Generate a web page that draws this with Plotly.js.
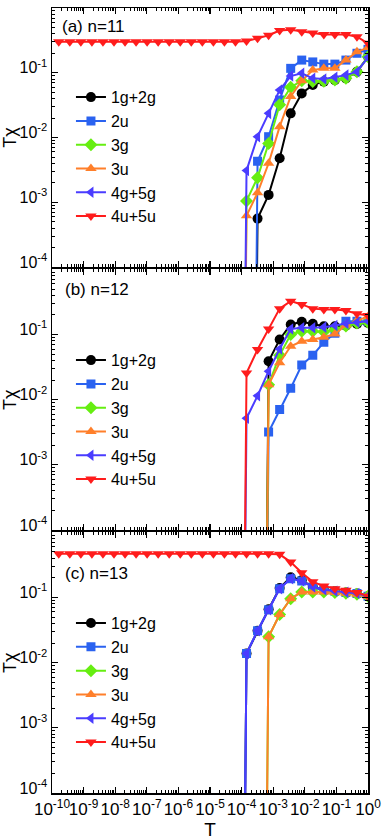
<!DOCTYPE html>
<html>
<head>
<meta charset="utf-8">
<script src="https://cdn.plot.ly/plotly-3.0.1.min.js"></script>
<style>
  html, body { margin: 0; padding: 0; background: #fff; }
  #chart { width: 382px; height: 840px; }
</style>
</head>
<body>
<div id="chart"></div>
<script>
// temperature grid (descending from T = 1)
var T = [1, 0.4472, 0.2, 0.08944, 0.04, 0.01789, 0.008, 0.003578, 0.0016, 7.155e-4,
         3.2e-4, 1.431e-4, 6.4e-5, 2.862e-5, 1.28e-5, 5.724e-6, 2.56e-6, 1.145e-6, 5.12e-7, 2.29e-7,
         1.024e-7, 4.579e-8, 2.048e-8, 9.159e-9, 4.096e-9, 1.832e-9, 8.192e-10, 3.664e-10, 1.638e-10];

var names = ["1g+2g", "2u", "3g", "3u", "4g+5g", "4u+5u"];
var colors = ["#000000", "#2a62f0", "#66ee11", "#ff7f2a", "#4a3cff", "#ff1c1c"];
var symbols = ["circle", "square", "diamond", "triangle-up", "triangle-left", "triangle-down"];
var sizes = [10, 9, 10, 10, 10, 10];

// panel (a) n=11   (1e-20 = curve drops off the axis)
var a_1g2g = [0.176, 0.104, 0.082, 0.077, 0.073, 0.065, 0.048, 0.0236, 0.0048, 0.0013, 0.00056, 1e-20];
var a_2u   = [0.23, 0.20, 0.157, 0.136, 0.136, 0.147, 0.157, 0.117, 0.038, 0.0103, 0.0043, 1e-20];
var a_3g   = [0.176, 0.104, 0.082, 0.077, 0.074, 0.073, 0.075, 0.060, 0.032, 0.0081, 0.0024, 0.00105, 1e-20];
var a_3u   = [0.245, 0.211, 0.157, 0.117, 0.117, 0.11, 0.075, 0.043, 0.0147, 0.004, 0.0014, 0.00062, 1e-20];
var a_4g5g = [0.173, 0.104, 0.092, 0.085, 0.08, 0.082, 0.098, 0.089, 0.054, 0.0236, 0.0103, 0.0031, 1e-20];
var a_4u5u = [0.285, 0.36, 0.39, 0.39, 0.39, 0.41, 0.43, 0.46, 0.45, 0.38, 0.34, 0.31,
              0.30, 0.30, 0.30, 0.30, 0.30, 0.30, 0.30, 0.30, 0.30, 0.30, 0.30, 0.30, 0.30, 0.30, 0.30, 0.30, 0.30];

// panel (b) n=12
var b_1g2g = [0.151, 0.145, 0.137, 0.134, 0.134, 0.146, 0.157, 0.143, 0.084, 0.039, 1e-20];
var b_2u   = [0.16, 0.16, 0.16, 0.105, 0.076, 0.048, 0.034, 0.015, 0.0071, 0.0032, 1e-20];
var b_3g   = [0.155, 0.15, 0.135, 0.12, 0.11, 0.112, 0.112, 0.10, 0.048, 0.017, 1e-20];
var b_3u   = [0.19, 0.165, 0.14, 0.102, 0.091, 0.084, 0.079, 0.066, 0.037, 0.017, 1e-20];
var b_4g5g = [0.16, 0.155, 0.148, 0.138, 0.13, 0.127, 0.127, 0.122, 0.06, 0.0274, 0.0115, 0.0052, 1e-20];
var b_4u5u = [0.196, 0.208, 0.234, 0.243, 0.243, 0.25, 0.29, 0.326, 0.25, 0.122, 0.059, 0.0257, 1e-20];

// panel (c) n=13
var c_1g2g = [0.105, 0.115, 0.12, 0.125, 0.132, 0.145, 0.185, 0.205, 0.14, 0.066, 0.031, 0.0138, 1e-20];
var c_2u   = [0.105, 0.115, 0.12, 0.125, 0.132, 0.145, 0.18, 0.195, 0.137, 0.065, 0.031, 0.0138, 1e-20];
var c_3g   = [0.105, 0.112, 0.116, 0.12, 0.122, 0.122, 0.122, 0.096, 0.055, 0.025, 1e-20];
var c_3u   = [0.105, 0.112, 0.116, 0.12, 0.122, 0.122, 0.122, 0.096, 0.055, 0.025, 1e-20];
var c_4g5g = [0.105, 0.115, 0.12, 0.125, 0.132, 0.145, 0.18, 0.195, 0.137, 0.065, 0.031, 0.0138, 1e-20];
var c_4u5u = [0.105, 0.12, 0.129, 0.137, 0.15, 0.174, 0.24, 0.35, 0.46,
              0.47, 0.47, 0.47, 0.47, 0.47, 0.47, 0.47, 0.47, 0.47, 0.47, 0.47,
              0.47, 0.47, 0.47, 0.47, 0.47, 0.47, 0.47, 0.47, 0.47];

var panelLabels = ["(a) n=11", "(b) n=12", "(c) n=13"];
var xTickVals = [1e-10, 1e-9, 1e-8, 1e-7, 1e-6, 1e-5, 1e-4, 1e-3, 1e-2, 1e-1, 1];
var xTickText = ["10<sup>-10</sup>", "10<sup>-9</sup>", "10<sup>-8</sup>", "10<sup>-7</sup>", "10<sup>-6</sup>",
                 "10<sup>-5</sup>", "10<sup>-4</sup>", "10<sup>-3</sup>", "10<sup>-2</sup>", "10<sup>-1</sup>", "10<sup>0</sup>"];
var yTickVals = [1e-4, 1e-3, 1e-2, 1e-1, 1];
var yTickText = ["10<sup>-4</sup>", "10<sup>-3</sup>", "10<sup>-2</sup>", "10<sup>-1</sup>", "10<sup>0</sup>"];
var yTickTextLower = ["10<sup>-4</sup>", "10<sup>-3</sup>", "10<sup>-2</sup>", "10<sup>-1</sup>", ""];

var panels = [
  [a_1g2g, a_2u, a_3g, a_3u, a_4g5g, a_4u5u],
  [b_1g2g, b_2u, b_3g, b_3u, b_4g5g, b_4u5u],
  [c_1g2g, c_2u, c_3g, c_3u, c_4g5g, c_4u5u]
];

var font = "Liberation Sans, Arial, Helvetica, sans-serif";
var data = [];
panels.forEach(function(series, p) {
  var suffix = p === 0 ? "" : String(p + 1);
  series.forEach(function(vals, i) {
    data.push({
      x: T.slice(0, vals.length),
      y: vals,
      name: names[i],
      type: "scatter",
      mode: "lines+markers",
      xaxis: "x" + suffix,
      yaxis: "y" + suffix,
      legend: "legend" + suffix,
      line: {color: colors[i], width: 2},
      marker: {symbol: symbols[i], size: sizes[i], color: colors[i]}
    });
  });
});

function xAxis(showLabels, anchor) {
  return {
    type: "log", range: [-10, 0], anchor: anchor,
    tickmode: "array", tickvals: xTickVals, ticktext: xTickText,
    showticklabels: showLabels, tickangle: 0,
    ticks: "inside", ticklen: 6, tickwidth: 1.2, tickcolor: "#000",
    minor: {ticks: "inside", ticklen: 3, tickwidth: 1, tickcolor: "#000", dtick: "D1"},
    showline: true, linecolor: "#000", linewidth: 1.5, mirror: "allticks",
    showgrid: false, zeroline: false,
    tickfont: {family: font, size: 17, color: "#000"}
  };
}
function yAxis(domain, anchor, labels) {
  return {
    type: "log", range: [-4, 0], domain: domain, anchor: anchor,
    tickmode: "array", tickvals: yTickVals, ticktext: labels,
    ticklabelshift: -5,
    ticks: "inside", ticklen: 6, tickwidth: 1.2, tickcolor: "#000",
    minor: {ticks: "inside", ticklen: 3, tickwidth: 1, tickcolor: "#000", dtick: "D1"},
    showline: true, linecolor: "#000", linewidth: 1.5, mirror: "allticks",
    showgrid: false, zeroline: false,
    tickfont: {family: font, size: 16, color: "#000"},
    title: {text: "T\u03c7", font: {family: font, size: 18, color: "#000"}, standoff: 2}
  };
}
function legendAt(y) {
  return {
    x: 0.06, y: y, xanchor: "left", yanchor: "top",
    bgcolor: "rgba(0,0,0,0)", borderwidth: 0, tracegroupgap: 0,
    font: {family: font, size: 16, color: "#000"}
  };
}

var layout = {
  width: 382, height: 840,
  margin: {l: 52, r: 14, t: 8, b: 47},
  paper_bgcolor: "#fff", plot_bgcolor: "#fff",
  font: {family: font, color: "#000"},
  xaxis: xAxis(false, "y"),
  yaxis: yAxis([0.670, 1], "x", yTickText),
  xaxis2: xAxis(false, "y2"),
  yaxis2: yAxis([0.335, 0.667], "x2", yTickTextLower),
  xaxis3: Object.assign(xAxis(true, "y3"), {title: {text: "T", font: {family: font, size: 19, color: "#000"}, standoff: 2}}),
  yaxis3: yAxis([0, 0.332], "x3", yTickTextLower),
  legend: legendAt(0.908),
  legend2: legendAt(0.573),
  legend3: legendAt(0.238),
  annotations: [
    {text: panelLabels[0], xref: "paper", yref: "paper", x: 0.025, y: 0.976, xanchor: "left", yanchor: "middle", showarrow: false, font: {family: font, size: 17, color: "#000"}},
    {text: panelLabels[1], xref: "paper", yref: "paper", x: 0.035, y: 0.641, xanchor: "left", yanchor: "middle", showarrow: false, font: {family: font, size: 17, color: "#000"}},
    {text: panelLabels[2], xref: "paper", yref: "paper", x: 0.035, y: 0.279, xanchor: "left", yanchor: "middle", showarrow: false, font: {family: font, size: 17, color: "#000"}}
  ]
};

Plotly.newPlot("chart", data, layout, {displayModeBar: false, staticPlot: true});
</script>
</body>
</html>
